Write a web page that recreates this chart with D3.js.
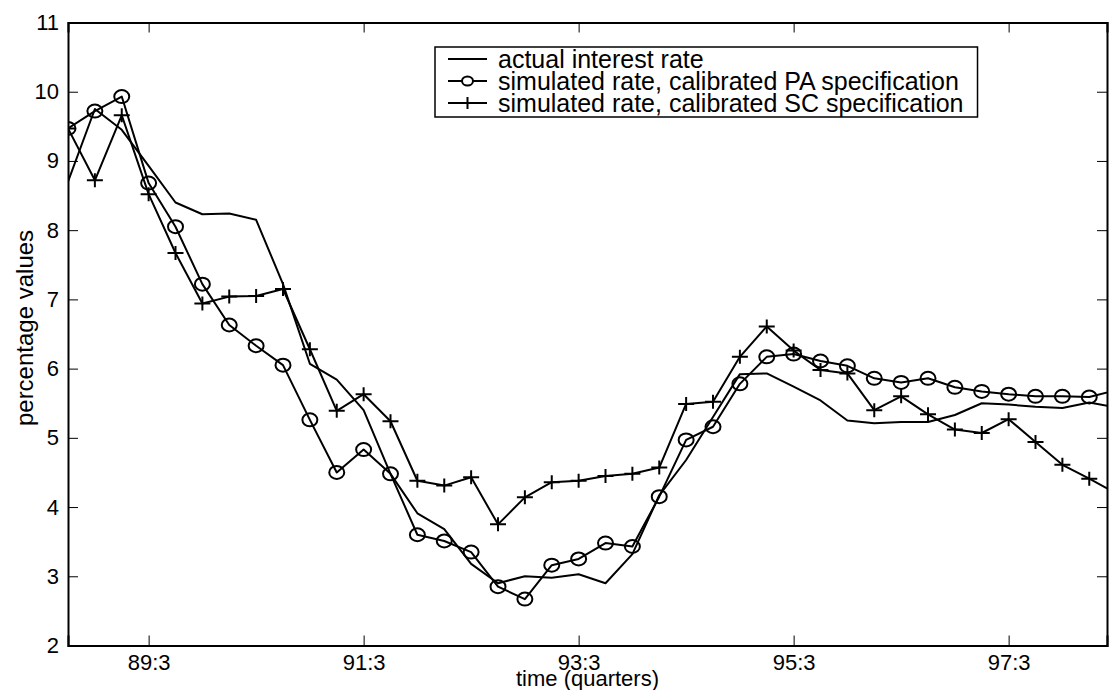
<!DOCTYPE html>
<html>
<head>
<meta charset="utf-8">
<script src="https://cdn.jsdelivr.net/npm/d3@7"></script>
<style>
  body { margin: 0; background: #fff; }
  text { font-family: "Liberation Sans", Arial, sans-serif; fill: #000; }
</style>
</head>
<body>
<div id="chart"></div>
<script>
// quarters, starting at 88:4
const quarters = [
  "88:4", "89:1", "89:2", "89:3", "89:4", "90:1", "90:2", "90:3", "90:4",
  "91:1", "91:2", "91:3", "91:4", "92:1", "92:2", "92:3", "92:4",
  "93:1", "93:2", "93:3", "93:4", "94:1", "94:2", "94:3", "94:4",
  "95:1", "95:2", "95:3", "95:4", "96:1", "96:2", "96:3", "96:4",
  "97:1", "97:2", "97:3", "97:4", "98:1", "98:2", "98:3"
];

const actualRate = [
  8.70, 9.75, 9.45, 8.93, 8.40, 8.23, 8.24, 8.15, 7.22, 6.07,
  5.84, 5.40, 4.48, 3.91, 3.68, 3.18, 2.90, 3.00, 2.98, 3.03,
  2.90, 3.32, 4.17, 4.68, 5.30, 5.92, 5.93, 5.74, 5.54, 5.25,
  5.21, 5.23, 5.23, 5.33, 5.50, 5.48, 5.45, 5.43, 5.51, 5.44
];

const simulatedPA = [
  9.47, 9.72, 9.93, 8.68, 8.05, 7.22, 6.63, 6.33, 6.05, 5.26,
  4.50, 4.83, 4.48, 3.60, 3.51, 3.35, 2.85, 2.67, 3.16, 3.25,
  3.48, 3.43, 4.15, 4.97, 5.16, 5.78, 6.17, 6.21, 6.11, 6.04,
  5.86, 5.80, 5.86, 5.73, 5.67, 5.63, 5.60, 5.60, 5.59, 5.69
];

const simulatedSC = [
  9.47, 8.72, 9.66, 8.52, 7.67, 6.94, 7.04, 7.05, 7.15, 6.28,
  5.39, 5.63, 5.24, 4.38, 4.31, 4.43, 3.75, 4.14, 4.36, 4.38,
  4.45, 4.48, 4.57, 5.49, 5.52, 6.17, 6.61, 6.26, 5.98, 5.93,
  5.40, 5.60, 5.34, 5.12, 5.07, 5.27, 4.94, 4.61, 4.41, 4.20
];

const xTickLabels = ["89:3", "91:3", "93:3", "95:3", "97:3"];
const yTicks = [2, 3, 4, 5, 6, 7, 8, 9, 10, 11];
const legendLabels = [
  "actual interest rate",
  "simulated rate, calibrated PA specification",
  "simulated rate, calibrated SC specification"
];

let width = 1109, height = 690;
let margin = { top: 22.5, bottom: 44.5, left: 68, right: 2 };

let svg = d3.select("#chart")
  .append("svg")
  .attr("width", width)
  .attr("height", height);

// x: quarter index, axis ends a bit before the last quarter
let x = d3.scaleLinear()
  .domain([0, 38.66])
  .range([margin.left, width - margin.right]);

let y = d3.scaleLinear()
  .domain([2, 11])
  .range([height - margin.bottom, margin.top]);

const xTickVals = xTickLabels.map(l => quarters.indexOf(l));

svg.append("clipPath")
  .attr("id", "plotclip")
  .append("rect")
  .attr("x", x.range()[0])
  .attr("y", y.range()[1])
  .attr("width", x.range()[1] - x.range()[0])
  .attr("height", y.range()[0] - y.range()[1]);

// axes, matlab style: ticks inward on all sides
const tickLen = 10;
let xAxisB = svg.append("g")
  .attr("transform", `translate(0,${y(2)})`)
  .call(d3.axisBottom(x).tickValues(xTickVals).tickSize(-tickLen).tickPadding(9)
        .tickFormat(d => quarters[d]));
let xAxisT = svg.append("g")
  .attr("transform", `translate(0,${y(11)})`)
  .call(d3.axisTop(x).tickValues(xTickVals).tickSize(-tickLen).tickFormat(""));
let yAxisL = svg.append("g")
  .attr("transform", `translate(${x(0)},0)`)
  .call(d3.axisLeft(y).tickValues(yTicks).tickSize(-tickLen).tickPadding(9));
let yAxisR = svg.append("g")
  .attr("transform", `translate(${x.range()[1]},0)`)
  .call(d3.axisRight(y).tickValues(yTicks).tickSize(-tickLen).tickFormat(""));

[xAxisB, xAxisT, yAxisL, yAxisR].forEach(g => {
  g.select(".domain").attr("stroke", "#000").attr("stroke-width", 2);
  g.selectAll(".tick line").attr("stroke", "#000").attr("stroke-width", 1);
  g.selectAll(".tick text").style("font-size", "22px").attr("fill", "#000");
});

// axis labels
svg.append("text")
  .attr("x", (x.range()[0] + x.range()[1]) / 2)
  .attr("y", height - 4)
  .attr("text-anchor", "middle")
  .style("font-size", "22px")
  .text("time (quarters)");

svg.append("text")
  .attr("x", -328)
  .attr("y", 33)
  .attr("transform", "rotate(-90)")
  .attr("text-anchor", "middle")
  .style("font-size", "24px")
  .text("percentage values");

// lines
let line = d3.line()
  .x((d, i) => x(i))
  .y(d => y(d));

let plot = svg.append("g").attr("clip-path", "url(#plotclip)");

[actualRate, simulatedPA, simulatedSC].forEach(series => {
  plot.append("path")
    .datum(series)
    .attr("d", line)
    .attr("fill", "none")
    .attr("stroke", "#000")
    .attr("stroke-width", 2)
    .attr("stroke-linejoin", "round");
});

// circle markers
plot.selectAll(".circ")
  .data(simulatedPA)
  .enter()
  .append("ellipse")
  .attr("cx", (d, i) => x(i))
  .attr("cy", d => y(d))
  .attr("rx", 7.5)
  .attr("ry", 6.5)
  .attr("fill", "none")
  .attr("stroke", "#000")
  .attr("stroke-width", 2);

// plus markers
function plusPath(cx, cy) {
  return `M${cx - 8},${cy}H${cx + 8}M${cx},${cy - 7}V${cy + 7}`;
}
plot.selectAll(".plus")
  .data(simulatedSC)
  .enter()
  .append("path")
  .attr("d", (d, i) => plusPath(x(i), y(d)))
  .attr("stroke", "#000")
  .attr("stroke-width", 2);

// legend
const legend = svg.append("g").attr("transform", "translate(435,47)");
let legendBox = legend.append("rect")
  .attr("x", 0)
  .attr("y", 0)
  .attr("height", 70)
  .attr("fill", "#fff")
  .attr("stroke", "#000")
  .attr("stroke-width", 1.5);

let textW = 0;
legendLabels.forEach((label, i) => {
  let ly = 12 + i * 22;
  legend.append("line")
    .attr("x1", 13).attr("x2", 52)
    .attr("y1", ly).attr("y2", ly)
    .attr("stroke", "#000")
    .attr("stroke-width", 2);
  if (i === 1) {
    legend.append("ellipse")
      .attr("cx", 32.5).attr("cy", ly)
      .attr("rx", 5.5).attr("ry", 4.5)
      .attr("fill", "#fff").attr("stroke", "#000").attr("stroke-width", 2);
  }
  if (i === 2) {
    legend.append("path")
      .attr("d", `M26.5,${ly}H38.5M32.5,${ly - 6}V${ly + 6}`)
      .attr("stroke", "#000").attr("stroke-width", 2);
  }
  let t = legend.append("text")
    .attr("x", 63)
    .attr("y", ly)
    .attr("dy", "0.35em")
    .style("font-size", "25px")
    .text(label);
  textW = Math.max(textW, t.node().getComputedTextLength());
});
legendBox.attr("width", 63 + textW + 14);
</script>
</body>
</html>
